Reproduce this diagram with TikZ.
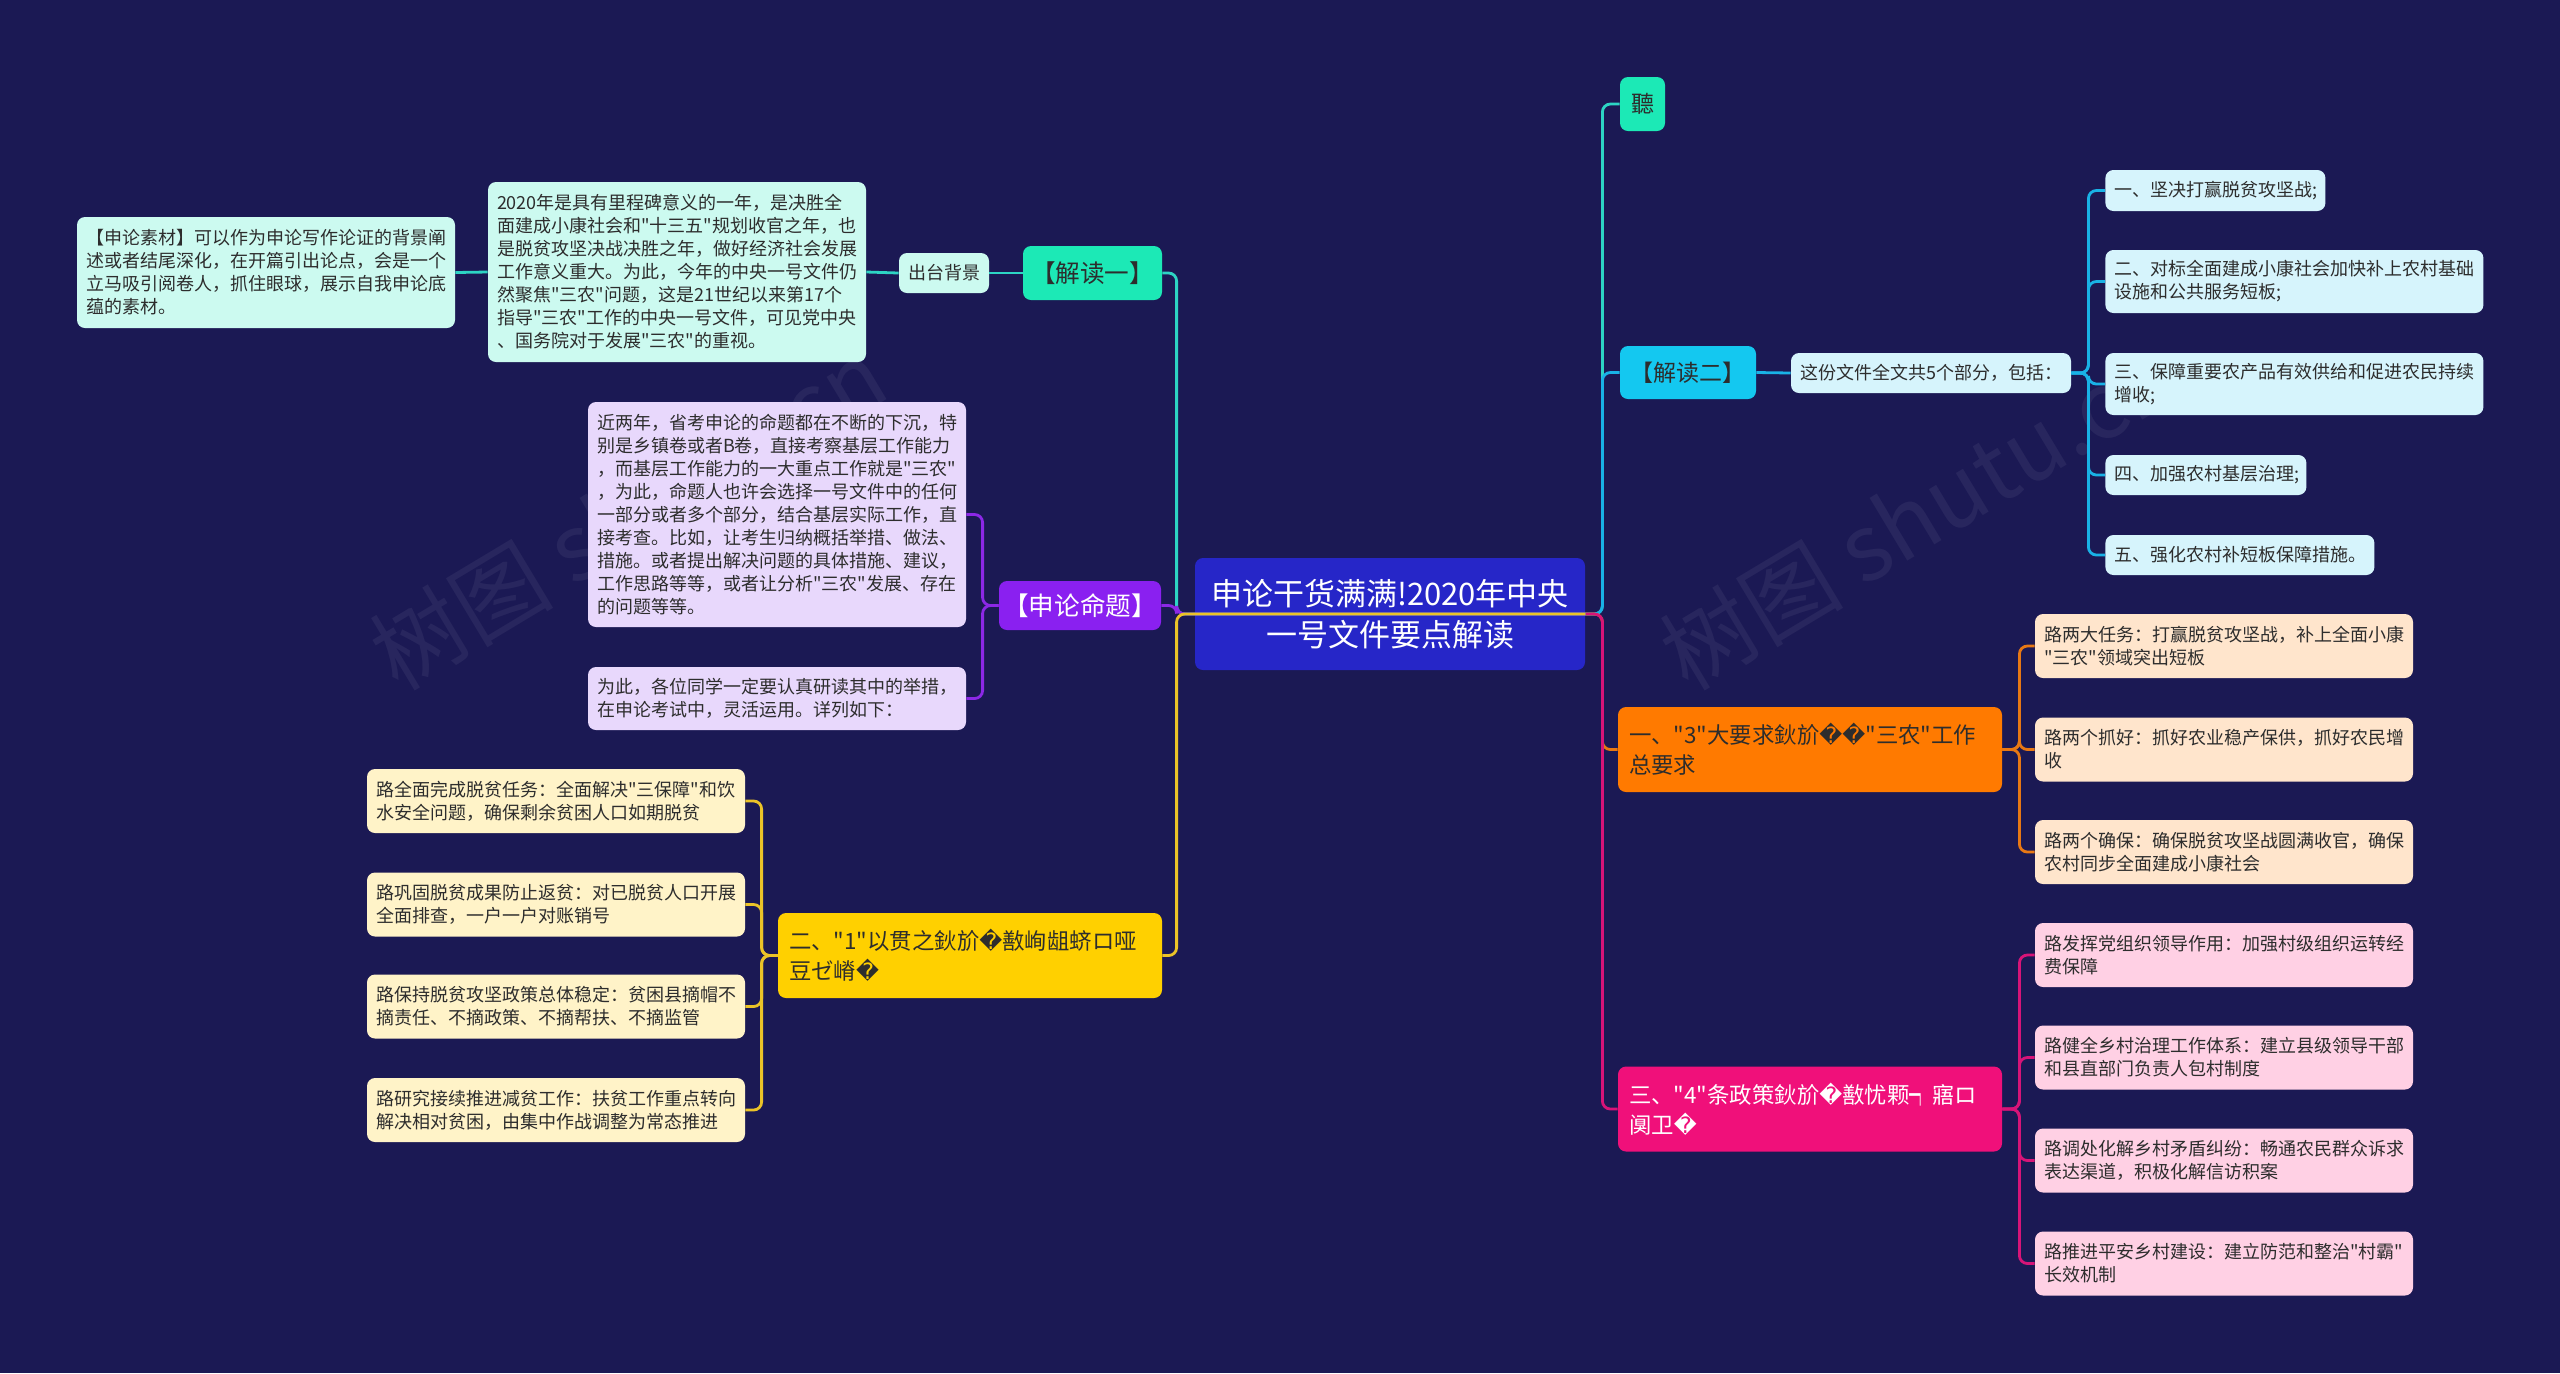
\documentclass[tikz,border=0pt]{standalone}
\usepackage{fontspec}
\newfontfamily\cjk{Noto Sans CJK SC}
\newfontfamily\djv{DejaVu Sans}
\newcommand\qm{{\djv\symbol{"FFFD}}}
\definecolor{bgnavy}{RGB}{27,25,84}
\definecolor{rootblue}{RGB}{38,38,200}
\definecolor{txtdark}{RGB}{45,45,45}
\definecolor{mintN}{RGB}{28,233,182}
\definecolor{mintL}{RGB}{204,250,240}
\definecolor{tealL}{RGB}{45,212,196}
\definecolor{cyanN}{RGB}{20,200,240}
\definecolor{cyanL}{RGB}{214,244,252}
\definecolor{cyanLn}{RGB}{25,178,230}
\definecolor{oraN}{RGB}{255,122,0}
\definecolor{oraL}{RGB}{255,229,204}
\definecolor{oraLn}{RGB}{232,120,20}
\definecolor{pinkN}{RGB}{240,16,122}
\definecolor{pinkL}{RGB}{255,208,228}
\definecolor{pinkLn}{RGB}{215,20,120}
\definecolor{yelN}{RGB}{255,208,0}
\definecolor{yelL}{RGB}{255,243,200}
\definecolor{yelLn}{RGB}{235,195,40}
\definecolor{purN}{RGB}{138,32,240}
\definecolor{purL}{RGB}{232,216,252}
\definecolor{purLn}{RGB}{140,40,230}

\begin{document}
\begin{tikzpicture}[x=0.5pt,y=-0.5pt,
    box/.style={rounded corners=4pt,inner xsep=4.5pt,inner ysep=0pt,align=left,text=txtdark,
      font=\cjk\fontsize{9pt}{11.5pt}\selectfont},
    wbox/.style={box,text width=180pt,minimum height=32pt},
    head/.style={rounded corners=4pt,inner sep=0pt,align=center,text=txtdark,
      font=\cjk\fontsize{11.5pt}{14pt}\selectfont},
    part/.style={rounded corners=4pt,inner xsep=5.5pt,inner ysep=0pt,align=left,text width=181pt,
      minimum height=42.5pt,font=\cjk\fontsize{11.2pt}{15pt}\selectfont},
    ln/.style={line width=1.4pt,rounded corners=4pt},
    wm/.style={font=\cjk\fontsize{46pt}{46pt}\selectfont,text=white,opacity=0.06}]

  \fill[bgnavy] (0,0) rectangle (2560,1373);
  \useasboundingbox (0,0) rectangle (2560,1373);

  \node[wm,rotate=31] (wm1) at (628,514) {树图 shutu.cn};
  \node[wm,rotate=31] (wm2) at (1918,514) {树图 shutu.cn};

  % centre
  \node[fill=rootblue,rounded corners=4pt,text=white,align=center,text width=195pt,minimum height=56pt,
    inner sep=0pt,font=\cjk\fontsize{15.5pt}{20.5pt}\selectfont] (root) at (1390,614)
    {申论干货满满!2020年中央\\一号文件要点解读};

  % left: 解读一
  \node[head,fill=mintN,minimum width=69.5pt,minimum height=27pt,font=\cjk\fontsize{12.3pt}{14pt}\selectfont] (jd1) at (1092.5,273) {【解读一】};
  \node[box,fill=mintL,minimum height=20pt] (ctbj) at (944,273) {出台背景};
  \node[box,fill=mintL,text width=180pt,minimum height=90pt] (bg) at (677,272)
    {2020年是具有里程碑意义的一年，是决胜全\\面建成小康社会和"十三五"规划收官之年，也\\是脱贫攻坚决战决胜之年，做好经济社会发展\\工作意义重大。为此，今年的中央一号文件仍\\然聚焦"三农"问题，这是21世纪以来第17个\\指导"三农"工作的中央一号文件，可见党中央\\、国务院对于发展"三农"的重视。};
  \node[box,fill=mintL,text width=180pt,minimum height=55.5pt] (sc) at (266,272.5)
    {【申论素材】可以作为申论写作论证的背景阐\\述或者结尾深化，在开篇引出论点，会是一个\\立马吸引阅卷人，抓住眼球，展示自我申论底\\蕴的素材。};

  % left: 申论命题
  \node[head,fill=purN,text=white,minimum width=81pt,minimum height=24.5pt,font=\cjk\fontsize{12.8pt}{14pt}\selectfont] (mt) at (1080,605.5) {【申论命题】};
  \node[box,fill=purL,text width=180pt,minimum height=112.5pt] (m1) at (777,514.5)
    {近两年，省考申论的命题都在不断的下沉，特\\别是乡镇卷或者B卷，直接考察基层工作能力\\，而基层工作能力的一大重点工作就是"三农"\\，为此，命题人也许会选择一号文件中的任何\\一部分或者多个部分，结合基层实际工作，直\\接考查。比如，让考生归纳概括举措、做法、\\措施。或者提出解决问题的具体措施、建议，\\工作思路等等，或者让分析"三农"发展、存在\\的问题等等。};
  \node[box,fill=purL,text width=180pt,minimum height=31.5pt] (m2) at (777,698.5)
    {为此，各位同学一定要认真研读其中的举措，\\在申论考试中，灵活运用。详列如下：};

  % left: 二
  \node[part,fill=yelN,text=txtdark,text width=181pt] (er) at (970,955.5)
    {二、"1"以贯之鈥斺\qm 敾峋龃蛴ロ哑\\豆ゼ嵴\qm};
  \foreach \n/\yy/\txt in {1/801/{路全面完成脱贫任务：全面解决"三保障"和饮\\水安全问题，确保剩余贫困人口如期脱贫},
      2/904.5/{路巩固脱贫成果防止返贫：对已脱贫人口开展\\全面排查，一户一户对账销号},
      3/1006.5/{路保持脱贫攻坚政策总体稳定：贫困县摘帽不\\摘责任、不摘政策、不摘帮扶、不摘监管},
      4/1110/{路研究接续推进减贫工作：扶贫工作重点转向\\解决相对贫困，由集中作战调整为常态推进}}
    \node[wbox,fill=yelL] (y\n) at (556,\yy) {\txt};

  % right: 聽 and 解读二
  \node[head,fill=mintN,minimum width=22.5pt,minimum height=27pt] (ting) at (1642.5,104) {聽};
  \node[head,fill=cyanN,minimum width=68pt,minimum height=26.5pt] (jd2) at (1688,372.5) {【解读二】};
  \node[box,fill=cyanL,text width=131pt,minimum height=20pt] (bf) at (1931,373) {这份文件全文共5个部分，包括：};
  \node[box,fill=cyanL,text width=101pt,minimum height=20.5pt,anchor=west] (b1) at (2105,190.5) {一、坚决打赢脱贫攻坚战;};
  \node[box,fill=cyanL,text width=180pt,minimum height=31.5pt,anchor=west] (b2) at (2105,281.5)
    {二、对标全面建成小康社会加快补上农村基础\\设施和公共服务短板;};
  \node[box,fill=cyanL,text width=180pt,minimum height=31pt,anchor=west] (b3) at (2105,384)
    {三、保障重要农产品有效供给和促进农民持续\\增收;};
  \node[box,fill=cyanL,text width=91.5pt,minimum height=20pt,anchor=west] (b4) at (2105,475) {四、加强农村基层治理;};
  \node[box,fill=cyanL,text width=125.5pt,minimum height=20pt,anchor=west] (b5) at (2105,555) {五、强化农村补短板保障措施。};

  % right: 一
  \node[part,fill=oraN,text=txtdark] (yq) at (1810,749.5) {一、"3"大要求鈥斺\qm\qm"三农"工作\\总要求};
  \foreach \n/\yy/\txt in {1/646/{路两大任务：打赢脱贫攻坚战，补上全面小康\\"三农"领域突出短板},
      2/749.5/{路两个抓好：抓好农业稳产保供，抓好农民增\\收},
      3/852/{路两个确保：确保脱贫攻坚战圆满收官，确保\\农村同步全面建成小康社会}}
    \node[wbox,fill=oraL] (o\n) at (2224,\yy) {\txt};

  % right: 三
  \node[part,fill=pinkN,text=white] (ss) at (1810,1109) {三、"4"条政策鈥斺\qm 敾忧颗┑寤ロ\\阒卫\qm};
  \foreach \n/\yy/\txt in {1/955/{路发挥党组织领导作用：加强村级组织运转经\\费保障},
      2/1057.5/{路健全乡村治理工作体系：建立县级领导干部\\和县直部门负责人包村制度},
      3/1160.5/{路调处化解乡村矛盾纠纷：畅通农民群众诉求\\表达渠道，积极化解信访积案},
      4/1263.5/{路推进平安乡村建设：建立防范和整治"村霸"\\长效机制}}
    \node[wbox,fill=pinkL] (p\n) at (2224,\yy) {\txt};

  % connectors
  \draw[ln,tealL] (jd1.west) -- (ctbj.east);
  \draw[ln,tealL] (ctbj.west) -- (bg.east);
  \draw[ln,tealL] (bg.west) -- (sc.east);
  \foreach \i in {1,2} \draw[ln,purLn] (mt.west) -- ++(-16,0) |- (m\i.east);
  \foreach \i in {1,...,4} \draw[ln,yelLn] (er.west) -- ++(-16,0) |- (y\i.east);
  \draw[ln,cyanLn] (jd2.east) -- (bf.west);
  \foreach \i in {1,...,5} \draw[ln,cyanLn] (bf.east) -- ++(17,0) |- (b\i.west);
  \foreach \i in {1,2,3} \draw[ln,oraLn] (yq.east) -- ++(17,0) |- (o\i.west);
  \foreach \i in {1,...,4} \draw[ln,pinkLn] (ss.east) -- ++(17,0) |- (p\i.west);

  \draw[ln,tealL] (root.east) -- ++(17,0) |- (ting.west);
  \draw[ln,cyanLn] (root.east) -- ++(17,0) |- (jd2.west);
  \draw[ln,oraLn] (root.east) -- ++(17,0) |- (yq.west);
  \draw[ln,pinkLn] (root.east) -- ++(17,0) |- (ss.west);
  \draw[ln,tealL] (root.east) -- (root.west) -- ++(-18,0) |- (jd1.east);
  \draw[ln,purLn] (root.east) -- (root.west) -- ++(-18,0) |- (mt.east);
  \draw[ln,yelLn] (root.east) -- (root.west) -- ++(-18,0) |- (er.east);
\end{tikzpicture}
\end{document}
